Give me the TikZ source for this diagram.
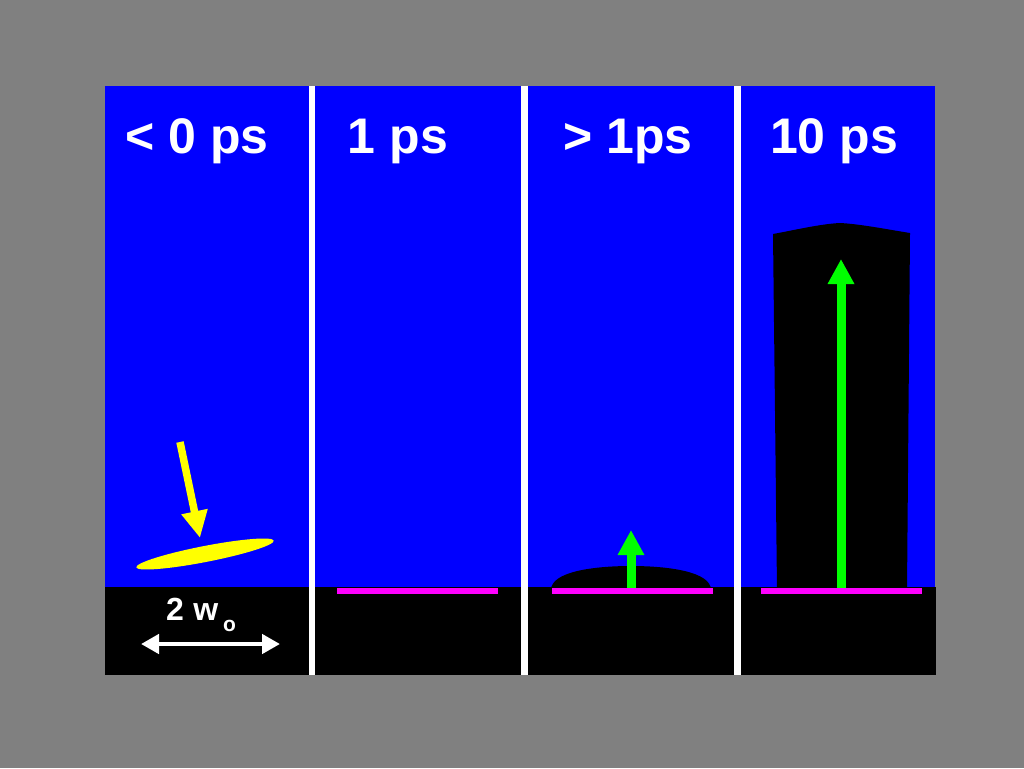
\documentclass[tikz,border=0pt]{standalone}
\usepackage{fontspec}
\setmainfont{Liberation Sans}
\usetikzlibrary{arrows.meta,shapes.geometric}
\definecolor{bggray}{HTML}{808080}
\definecolor{pblue}{HTML}{0000FF}
\definecolor{pgreen}{HTML}{00FF00}
\definecolor{pmag}{HTML}{FF00FF}
\definecolor{pyel}{HTML}{FFFF00}
\tikzset{
  title/.style={text=white, font=\fontsize{50}{52}\selectfont\bfseries, anchor=base, inner sep=0pt},
  divider/.style={fill=white},
  layer/.style={fill=pmag},
  greenarrow/.style={draw=pgreen, line width=9pt, -{Triangle[length=25pt,width=25pt]}},
  yelarrow/.style={draw=pyel, line width=7.5pt, -{Triangle[length=27pt,width=25pt]}},
  whitearrow/.style={draw=white, line width=4.5pt, {Triangle[length=18pt,width=19pt]}-{Triangle[length=18pt,width=19pt]}},
}
\begin{document}
\begin{tikzpicture}[x=1pt,y=-1pt]
\useasboundingbox (0,0) rectangle (1024,768);
\fill[bggray] (0,0) rectangle (1024,768);
% panels
\fill[pblue] (105,86) rectangle (935,587);
\fill[black] (105,587) rectangle (936,675);
% panel 3 dome
\fill[black] (551,590) .. controls (551,572) and (592,566) .. (631,566) .. controls (670,566) and (711,572) .. (711,590) -- cycle;
% panel 4 column
\fill[black] (777,590) -- (773,234) .. controls (795,230) and (820,224) .. (840,223) .. controls (860,224) and (885,229) .. (910,233) -- (907,590) -- cycle;
% dividers
\fill[divider] (309,86) rectangle (315,675);
\fill[divider] (521,86) rectangle (528,675);
\fill[divider] (734,86) rectangle (741,675);
% titles
\node[title] (t1) at (197,153) {< 0 ps};
\node[title] (t2) at (398,153) {1 ps};
\node[title] (t3) at (628,153) {> 1ps};
\node[title] (t4) at (834,153) {10 ps};
% magenta layers
\fill[layer] (337,588) rectangle (498,594);
\fill[layer] (552,588) rectangle (713,594);
\fill[layer] (761,588) rectangle (922,594);
% green arrows
\coordinate (g3a) at (631,588);
\coordinate (g3b) at (631,530);
\draw[greenarrow] (g3a) -- (g3b);
\coordinate (g4a) at (841,588);
\coordinate (g4b) at (841,259);
\draw[greenarrow] (g4a) -- (g4b);
% yellow spot and arrow
\node[ellipse, fill=pyel, minimum width=140pt, minimum height=16pt, inner sep=0pt, rotate=11] (spot) at (205,554) {};
\coordinate (ya) at (180,442);
\coordinate (yb) at (200,538);
\draw[yelarrow] (ya) -- (yb);
% 2 w_o
\node[text=white, anchor=base, inner sep=0pt, font=\fontsize{32}{34}\selectfont\bfseries] (wlab) at (201,620) {2\hspace{0.3em}w\hspace{0.15em}\raisebox{-11pt}{\fontsize{21}{22}\selectfont o}};
\coordinate (wa) at (141,644);
\coordinate (wb) at (280,644);
\draw[whitearrow] (wa) -- (wb);
\end{tikzpicture}
\end{document}
